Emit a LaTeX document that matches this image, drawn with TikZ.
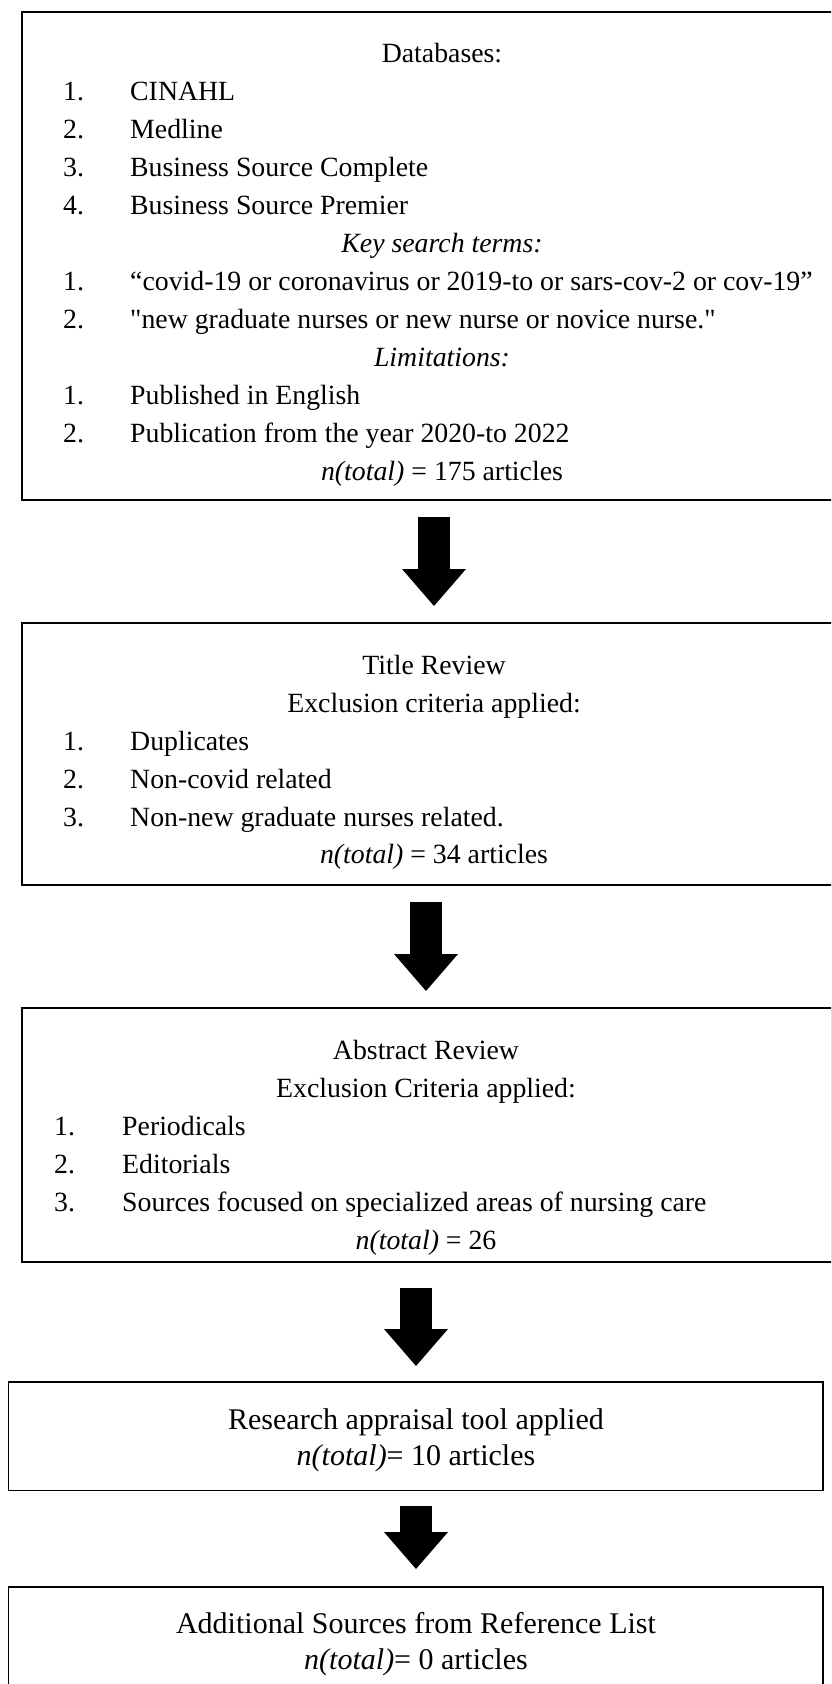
\documentclass[tikz,border=0pt]{standalone}
\usepackage{fontspec}
\setmainfont{Liberation Serif}[Ligatures=TeXOff]
\usetikzlibrary{arrows.meta}
\begin{document}
\begin{tikzpicture}[x=1pt,y=-1pt,
  stage/.style={draw=black, line width=1.7pt, rectangle, inner sep=0pt, outer sep=0pt, anchor=north west},
  head/.style={inner sep=0pt, anchor=base, font=\fontsize{27.8}{38}\selectfont},
  num/.style={inner sep=0pt, anchor=base west, font=\fontsize{27.8}{38}\selectfont},
  bighead/.style={inner sep=0pt, anchor=base, font=\fontsize{30}{36}\selectfont},
  flow/.style={black, line width=32pt, line cap=butt,
    -{Triangle[width=64pt,length=37pt,line width=0pt]}}
]
\useasboundingbox (0,0) rectangle (831,1684);
\clip (0,0) rectangle (831,1684);

% stage boxes
\node[stage, minimum width=840pt, minimum height=488pt] (search) at (22,12) {};
\node[stage, minimum width=824pt, minimum height=262pt] (title) at (22,623) {};
\node[stage, minimum width=810pt, minimum height=254pt] (abstract) at (22,1008) {};
\node[stage, minimum width=814.5pt, minimum height=108.5pt] (appraisal) at (8.5,1382) {};
\node[stage, minimum width=814.5pt, minimum height=150pt] (extra) at (8.5,1587) {};

% search stage
\node[head] (s0) at (442,62) {Databases:};
\node[num] (s1n) at (63,100) {1.};  \node[num] (s1) at (130,100) {CINAHL};
\node[num] (s2n) at (63,138) {2.};  \node[num] (s2) at (130,138) {Medline};
\node[num] (s3n) at (63,176) {3.};  \node[num] (s3) at (130,176) {Business Source Complete};
\node[num] (s4n) at (63,214) {4.};  \node[num] (s4) at (130,214) {Business Source Premier};
\node[head] (k0) at (442,252) {\itshape Key search terms:};
\node[num] (k1n) at (63,290) {1.};  \node[num] (k1) at (130,290) {“covid-19 or coronavirus or 2019-to or sars-cov-2 or cov-19”};
\node[num] (k2n) at (63,328) {2.};  \node[num] (k2) at (130,328) {"new graduate nurses or new nurse or novice nurse."};
\node[head] (l0) at (442,366) {\itshape Limitations:};
\node[num] (l1n) at (63,404) {1.};  \node[num] (l1) at (130,404) {Published in English};
\node[num] (l2n) at (63,442) {2.};  \node[num] (l2) at (130,442) {Publication from the year 2020-to 2022};
\node[head] (stot) at (442,480) {\textit{n(total)} = 175 articles};

% title review stage
\node[head] (t0) at (434,674) {Title Review};
\node[head] (t1) at (434,712) {Exclusion criteria applied:};
\node[num] (t2n) at (63,750) {1.};  \node[num] (t2) at (130,750) {Duplicates};
\node[num] (t3n) at (63,788) {2.};  \node[num] (t3) at (130,788) {Non-covid related};
\node[num] (t4n) at (63,826) {3.};  \node[num] (t4) at (130,826) {Non-new graduate nurses related.};
\node[head] (ttot) at (434,863) {\textit{n(total)} = 34 articles};

% abstract review stage
\node[head] (a0) at (426,1059) {Abstract Review};
\node[head] (a1) at (426,1097) {Exclusion Criteria applied:};
\node[num] (a2n) at (54,1135) {1.};  \node[num] (a2) at (122,1135) {Periodicals};
\node[num] (a3n) at (54,1173) {2.};  \node[num] (a3) at (122,1173) {Editorials};
\node[num] (a4n) at (54,1211) {3.};  \node[num] (a4) at (122,1211) {Sources focused on specialized areas of nursing care};
\node[head] (atot) at (426,1249) {\textit{n(total)} = 26};

% appraisal stage
\node[bighead] (p0) at (416,1429) {Research appraisal tool applied};
\node[bighead] (ptot) at (416,1465) {\textit{n(total)}= 10 articles};

% reference list stage
\node[bighead] (r0) at (416,1633) {Additional Sources from Reference List};
\node[bighead] (rtot) at (416,1669) {\textit{n(total)}= 0 articles};

% block arrows between stages
\coordinate (f1s) at (434,517);  \coordinate (f1e) at (434,606);
\coordinate (f2s) at (426,902);  \coordinate (f2e) at (426,991);
\coordinate (f3s) at (416,1288); \coordinate (f3e) at (416,1366);
\coordinate (f4s) at (416,1506); \coordinate (f4e) at (416,1569);
\draw[flow] (f1s) -- (f1e);
\draw[flow] (f2s) -- (f2e);
\draw[flow] (f3s) -- (f3e);
\draw[flow] (f4s) -- (f4e);
\end{tikzpicture}
\end{document}
